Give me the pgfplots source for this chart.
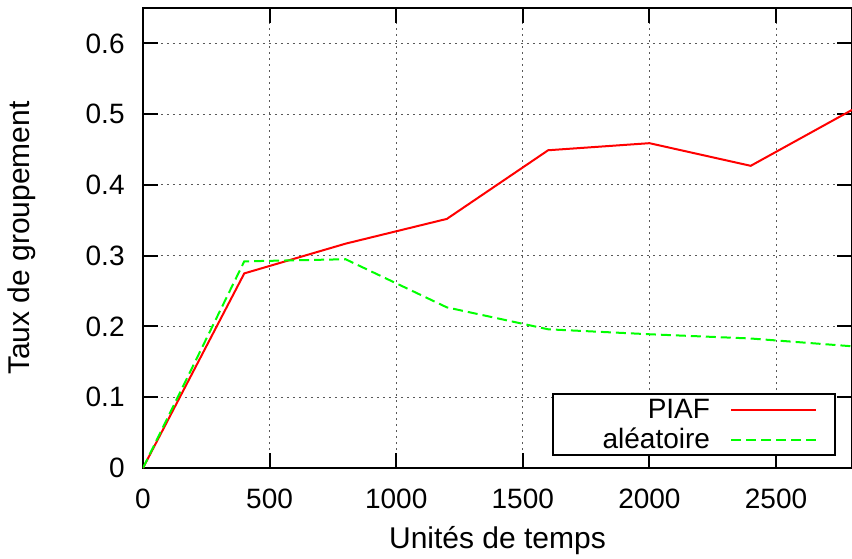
\documentclass[border=0pt]{standalone}
\usepackage{fontspec}
\setmainfont{Liberation Sans}
\usepackage{pgfplots}
\pgfplotsset{compat=1.18}
\begin{document}
\fontsize{14pt}{16pt}\selectfont
\begin{tikzpicture}
\useasboundingbox (-71.5pt,-45pt) rectangle (354.5pt,234pt);
\begin{axis}[
  at={(0,0)}, anchor=south west,
  scale only axis, width=354.5pt, height=230pt,
  xmin=0, xmax=2800, ymin=0, ymax=0.65,
  xtick={0,500,1000,1500,2000,2500},
  ytick={0,0.1,0.2,0.3,0.4,0.5,0.6},
  /pgf/number format/assume math mode=true,
  /pgf/number format/fixed,
  /pgf/number format/precision=1,
  /pgf/number format/1000 sep={},
  scaled ticks=false,
  tick align=inside,
  major tick length=7.5pt,
  every tick/.style={line width=1pt, black},
  axis line style={line width=1pt},
  grid=major,
  major grid style={line width=0.5pt, black!65, dash pattern=on 1pt off 2pt},
  xticklabel style={anchor=base, inner sep=0pt, yshift=-20pt},
  yticklabel style={anchor=east, inner sep=0pt, xshift=-9pt},
  xlabel={Unités de temps},
  ylabel={Taux de groupement},
  every axis x label/.style={at={(axis description cs:0.5,0)}, anchor=base, yshift=-40pt, font=\fontsize{15pt}{17pt}\selectfont},
  every axis y label/.style={at={(axis description cs:0,0.5)}, xshift=-60.5pt, rotate=90, anchor=center, font=\fontsize{15pt}{17pt}\selectfont},
  legend plot pos=right,
  legend image code/.code={\draw[#1] (0pt,0pt) -- (42.5pt,0pt);},
  legend style={at={(axis description cs:0.97743,0.0261)}, anchor=south east,
    draw=black, line width=1pt, fill=white, inner xsep=9pt, inner ysep=0.25pt,
    column sep=10pt, row sep=0pt,
    nodes={inner sep=0pt, text height=12pt, text depth=3pt}},
]
\addplot[color={rgb,255:red,255;green,0;blue,0}, line width=1pt] coordinates {
  (0,0) (400,0.275) (800,0.317) (1200,0.352) (1600,0.449) (2000,0.459) (2400,0.427) (2800,0.506)
};
\addlegendentry[text width=69.5pt, align=right]{PIAF}
\addplot[color={rgb,255:red,0;green,255;blue,0}, line width=1pt, dash pattern=on 5pt off 2.5pt] coordinates {
  (0,0) (400,0.292) (800,0.295) (1200,0.227) (1600,0.196) (2000,0.189) (2400,0.183) (2800,0.172)
};
\addlegendentry[text width=69.5pt, align=right]{aléatoire}
\end{axis}
\end{tikzpicture}
\end{document}
